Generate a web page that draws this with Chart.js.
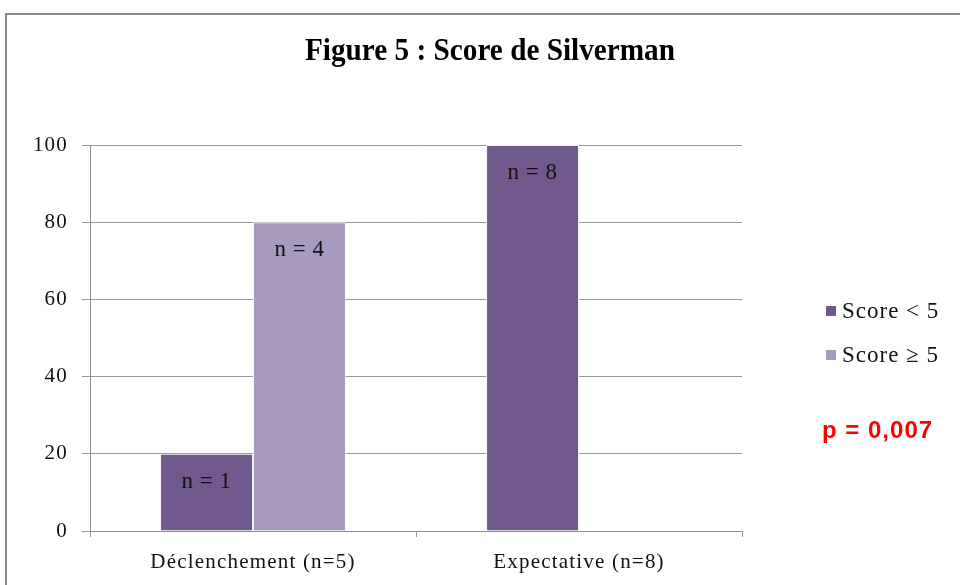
<!DOCTYPE html>
<html>
<head>
<meta charset="utf-8">
<title>Figure 5 : Score de Silverman</title>
<script src="https://cdn.jsdelivr.net/npm/chart.js@4.4.0/dist/chart.umd.min.js"></script>
<style>
  html, body { margin: 0; padding: 0; background: #fff; }
  #chart { display: block; }
</style>
</head>
<body>
<canvas id="chart" width="960" height="585"></canvas>
<script>
// Data
const groups = ['Déclenchement (n=5)', 'Expectative (n=8)'];
const seriesNames = ['Score < 5', 'Score ≥ 5'];
const lowScore = [20, 100];   // % Score < 5
const highScore = [80, 0];    // % Score >= 5
const lowCounts = [1, 8];
const highCounts = [4, 0];
const yTicks = [0, 20, 40, 60, 80, 100];

const titleText = 'Figure 5 : Score de Silverman';
const pValueText = 'p = 0,007';

const darkPurple = '#705A8D';
const lightPurple = '#A899BE';
const serif = "'Liberation Serif', 'DejaVu Serif', serif";

// spaced-out text like the original
const spacing = {
    id: 'spacing',
    beforeLayout(chart) { chart.ctx.letterSpacing = '1.2px'; },
    beforeDraw(chart) { chart.ctx.letterSpacing = '1.2px'; }
};

// frame, title, legend, p-value and the "n = x" labels
const decorations = {
    id: 'decorations',
    afterDraw(chart) {
        const ctx = chart.ctx;
        ctx.save();

        // outer frame (only top and left are visible in the picture)
        ctx.strokeStyle = '#8a8a8a';
        ctx.lineWidth = 2;
        ctx.beginPath();
        ctx.moveTo(6, 585);
        ctx.lineTo(6, 14);
        ctx.lineTo(960, 14);
        ctx.stroke();

        // n = ... labels inside bars
        ctx.letterSpacing = '0.5px';
        ctx.fillStyle = '#111';
        ctx.font = '23px ' + serif;
        ctx.textAlign = 'center';
        ctx.textBaseline = 'middle';
        const counts = [lowCounts, highCounts];
        chart.data.datasets.forEach((ds, i) => {
            chart.getDatasetMeta(i).data.forEach((bar, j) => {
                if (!ds.data[j]) return;
                ctx.fillText('n = ' + counts[i][j], bar.x, bar.y + 28);
            });
        });

        // title, condensed bold serif
        ctx.letterSpacing = '0px';
        ctx.font = 'bold 31px ' + serif;
        const w = ctx.measureText(titleText).width;
        ctx.save();
        ctx.translate(490, 52);
        ctx.scale(370 / w, 1);
        ctx.fillStyle = '#000';
        ctx.fillText(titleText, 0, 0);
        ctx.restore();

        // legend
        ctx.letterSpacing = '1px';
        ctx.textAlign = 'left';
        ctx.font = '23px ' + serif;
        const colors = [darkPurple, lightPurple];
        seriesNames.forEach((name, i) => {
            const y = 311 + i * 44;
            ctx.fillStyle = colors[i];
            ctx.fillRect(826, y - 5, 10, 10);
            ctx.fillStyle = '#111';
            ctx.fillText(name, 842, y + 1);
        });

        // p-value
        ctx.letterSpacing = '1px';
        ctx.fillStyle = '#ff0000';
        ctx.font = "bold 24px 'Liberation Sans', Arial, sans-serif";
        ctx.fillText(pValueText, 822, 431);

        ctx.restore();
    }
};

new Chart(document.getElementById('chart'), {
    type: 'bar',
    data: {
        labels: groups,
        datasets: [{
            label: seriesNames[0],
            data: lowScore,
            backgroundColor: darkPurple,
            borderColor: '#f4f2f6',
            borderWidth: 1
        }, {
            label: seriesNames[1],
            data: highScore,
            backgroundColor: lightPurple,
            borderColor: '#f4f2f6',
            borderWidth: 1
        }]
    },
    options: {
        responsive: false,
        animation: false,
        categoryPercentage: 0.57,
        barPercentage: 1,
        layout: {
            padding: { top: 145, right: 218, bottom: 0, left: 0 }
        },
        plugins: {
            legend: { display: false },
            title: { display: false },
            tooltip: { enabled: false }
        },
        scales: {
            x: {
                afterFit: (s) => { s.height = 54; },
                grid: {
                    offset: true,
                    drawOnChartArea: false,
                    color: '#9a9a9a',
                    tickLength: 6
                },
                border: { color: '#8c8c8c', width: 1 },
                ticks: {
                    color: '#111',
                    padding: 13,
                    font: { family: serif, size: 21 }
                }
            },
            y: {
                min: 0,
                max: 100,
                afterFit: (s) => { s.width = 90; },
                afterBuildTicks: (s) => { s.ticks = yTicks.map(v => ({ value: v })); },
                grid: {
                    color: '#999',
                    tickLength: 8
                },
                border: { color: '#8c8c8c', width: 1 },
                ticks: {
                    color: '#111',
                    padding: 14,
                    font: { family: serif, size: 21 }
                }
            }
        }
    },
    plugins: [spacing, decorations]
});
</script>
</body>
</html>
